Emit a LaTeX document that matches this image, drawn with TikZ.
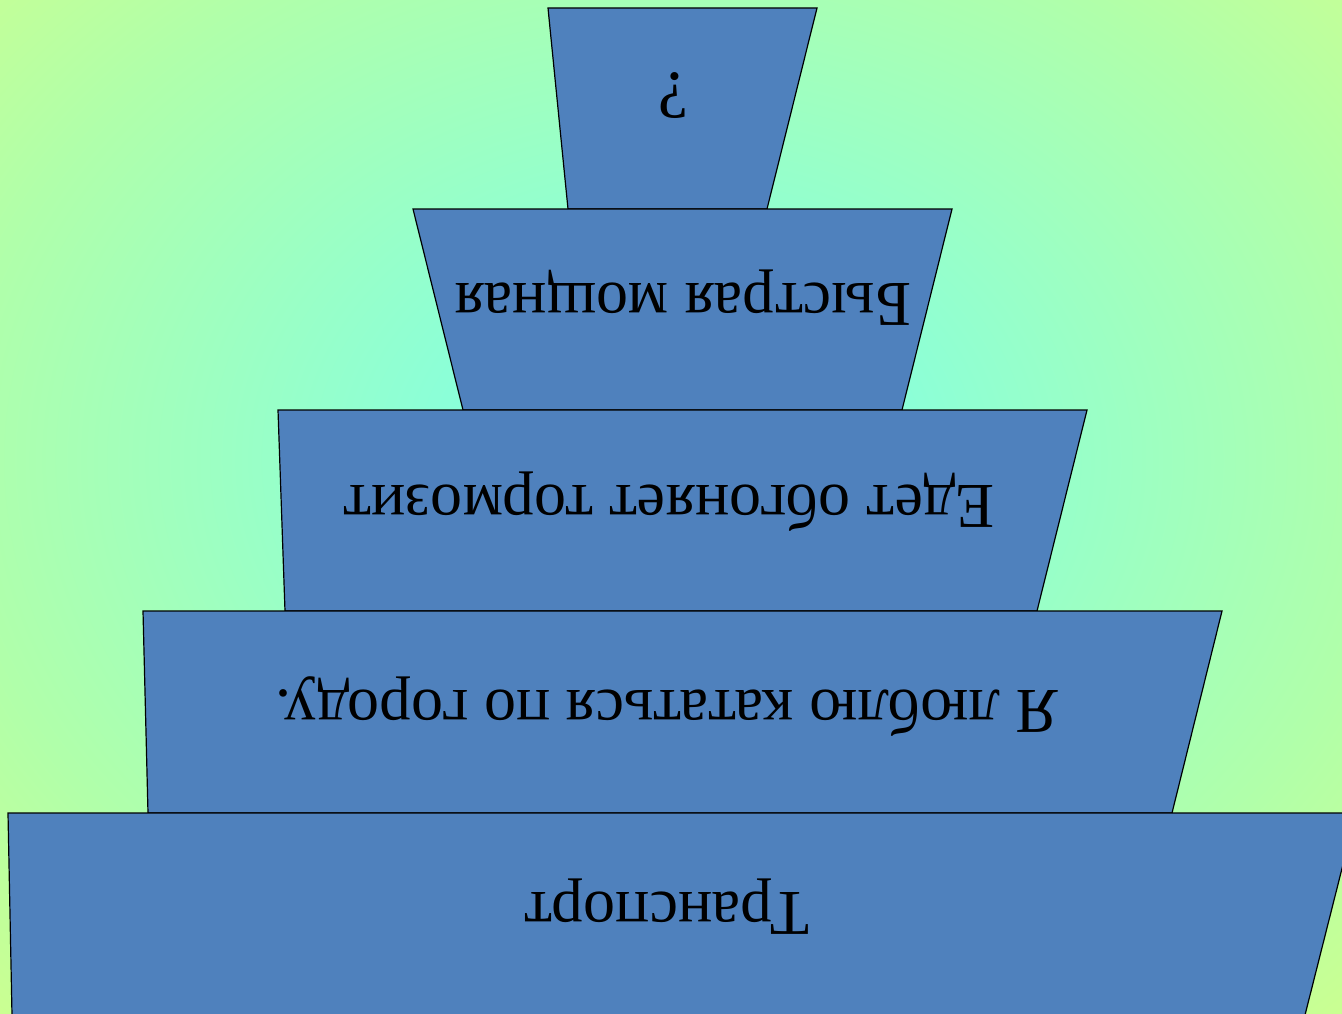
\documentclass[tikz,border=0pt]{standalone}
\usepackage{fontspec}
\setmainfont{Liberation Serif}
\definecolor{bgc}{HTML}{88FFDC}
\definecolor{bgm}{HTML}{B0FFAA}
\definecolor{bgo}{HTML}{CCFF90}
\definecolor{boxblue}{HTML}{4F81BD}
\pgfdeclareradialshading{bgshade}{\pgfpoint{0bp}{0bp}}{color(0bp)=(bgc); color(5bp)=(bgc); color(18bp)=(bgm); color(25bp)=(bgo); color(50bp)=(bgo)}
\begin{document}
\begin{tikzpicture}[x=1pt,y=-1pt,
  tier/.style={draw=black, line width=1.2pt, fill=boxblue, line join=miter},
  lbl/.style={anchor=base, rotate=180, inner sep=0pt, text=black, font=\fontsize{64}{70}\selectfont}]
\useasboundingbox (0,0) rectangle (1342,1014);
\begin{scope}
\clip (0,0) rectangle (1342,1014);
\fill[bgo] (0,0) rectangle (1342,1014);
\shade[shading=bgshade] (671,460) ellipse [x radius=990, y radius=780];
\filldraw[tier] (548,8) -- (817,8) -- (767,209) -- (568,209) -- cycle;
\filldraw[tier] (413,209) -- (952,209) -- (902,410) -- (463,410) -- cycle;
\filldraw[tier] (278,410) -- (1087,410) -- (1037,611) -- (285,611) -- cycle;
\filldraw[tier] (143,611) -- (1222,611) -- (1172,813) -- (148,813) -- cycle;
\filldraw[tier] (8,813) -- (1356,813) -- (1305,1015) -- (12,1015) -- cycle;
\end{scope}
\node[lbl, font=\fontsize{68}{74}\selectfont] (t1) at (673,74) {?};
\node[lbl] (t2) at (683,283) {Быстрая мощная};
\node[lbl] (t3) at (669,485) {Едет обгоняет тормозит};
\node[lbl] (t4) at (667,690) {Я люблю кататься по городу.};
\node[lbl] (t5) at (667,892) {Транспорт};
\end{tikzpicture}
\end{document}
